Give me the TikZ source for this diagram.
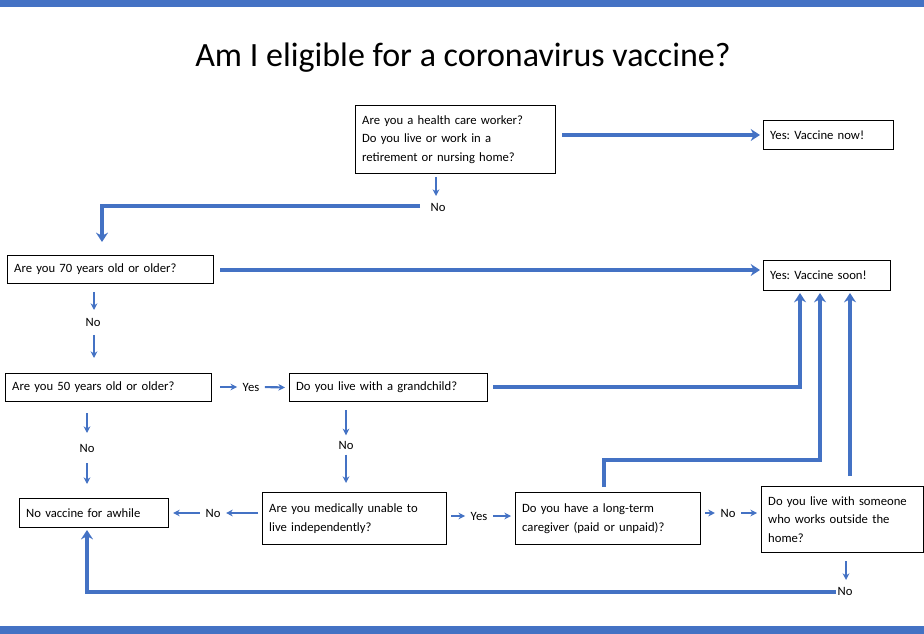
\documentclass[tikz,border=0pt]{standalone}
\usepackage{fontspec}
\setmainfont{Carlito}
\usetikzlibrary{arrows.meta}
\definecolor{bl}{HTML}{4472C4}
\frenchspacing
\begin{document}
\begin{tikzpicture}[x=0.75pt,y=-0.75pt,
 box/.style={draw,line width=0.8pt,inner xsep=5pt,inner ysep=0pt,font=\fontsize{9.5}{14}\selectfont\frenchspacing,align=left,anchor=north west},
 lab/.style={font=\fontsize{9.5}{11}\selectfont,inner sep=1pt},
 thin/.style={draw=bl,line width=1.6pt,shorten >=3pt,shorten <=3pt,-{Stealth[length=5pt,width=5pt]}},
 thick/.style={draw=bl,line width=3pt,-{Stealth[length=7pt,width=9pt]}}]
\useasboundingbox (0,0) rectangle (924,634);
\fill[bl] (0,0) rectangle (924,7);
\fill[bl] (0,626) rectangle (924,634);
\node (title) at (463,58) {\fontsize{25.5}{28}\selectfont Am I eligible for a coronavirus vaccine?};
% boxes
\node[box,text width=140pt,minimum height=51pt] (b1) at (355,105) {Are you a health care worker?\\Do you live or work in a\\retirement or nursing home?};
\node[box,text width=87.5pt,minimum height=22pt] (now) at (763,120) {Yes: Vaccine now!};
\node[box,text width=144.5pt,minimum height=21pt] (b70) at (7,255) {Are you 70 years old or older?};
\node[box,text width=85pt,minimum height=22.5pt] (soon) at (763,260) {Yes: Vaccine soon!};
\node[box,text width=144.5pt,minimum height=21pt] (b50) at (5,373) {Are you 50 years old or older?};
\node[box,text width=138.5pt,minimum height=21pt] (gc) at (289,373) {Do you live with a grandchild?};
\node[box,text width=101.75pt,minimum height=22pt] (novac) at (19,498) {No vaccine for awhile};
\node[box,text width=128pt,minimum height=39pt] (med) at (262,492) {Are you medically unable to\\live independently?};
\node[box,text width=128.75pt,minimum height=39pt] (care) at (515,492) {Do you have a long-term\\caregiver (paid or unpaid)?};
\node[box,text width=111.5pt,minimum height=49.5pt] (some) at (761,486) {Do you live with someone\\who works outside the\\home?};
% labels
\node[lab] (n1) at (438,207) {No};
\node[lab] (n70) at (93,322) {No};
\node[lab] (y50) at (251,387) {Yes};
\node[lab] (n50) at (87,448) {No};
\node[lab] (ngc) at (346,445) {No};
\node[lab] (nmed) at (213,513) {No};
\node[lab] (ymed) at (479,516) {Yes};
\node[lab] (ncare) at (728,513) {No};
\node[lab] (nsome) at (845,591) {No};
% connectors
\draw[thick] (562,135) -- (760,135);
\draw[thin] (436,173) -- (436,200);
\draw[thick] (420,206) -- (102,206) -- (102,242);
\draw[thick] (220,270) -- (760,270);
\draw[thin] (94,288) -- (94,314);
\draw[thin] (94,331) -- (94,362);
\draw[thin] (216,387) -- (y50.west);
\draw[thin] (y50.east) -- (gc.west);
\draw[thin] (87,409) -- (87,437);
\draw[thin] (87,459) -- (87,488);
\draw[thin] (346,406) -- (ngc.north);
\draw[thin] (ngc.south) -- (346,487);
\draw[thin] (med.west |- nmed) -- (nmed.east);
\draw[thin] (nmed.west) -- (novac.east |- nmed);
\draw[thin] (med.east |- ymed) -- (ymed.west);
\draw[thin] (ymed.east) -- (care.west |- ymed);
\draw[thin] (care.east |- ncare) -- (ncare.west);
\draw[thin] (ncare.east) -- (some.west |- ncare);
\draw[thick] (493,387) -- (800,387) -- (800,293);
\draw[thick] (604,487) -- (604,460) -- (820,460) -- (820,293);
\draw[thick] (850,476) -- (850,293);
\draw[thin] (846,557) -- (846,584);
\draw[thick] (836,592) -- (87,592) -- (87,530);
\end{tikzpicture}
\end{document}
